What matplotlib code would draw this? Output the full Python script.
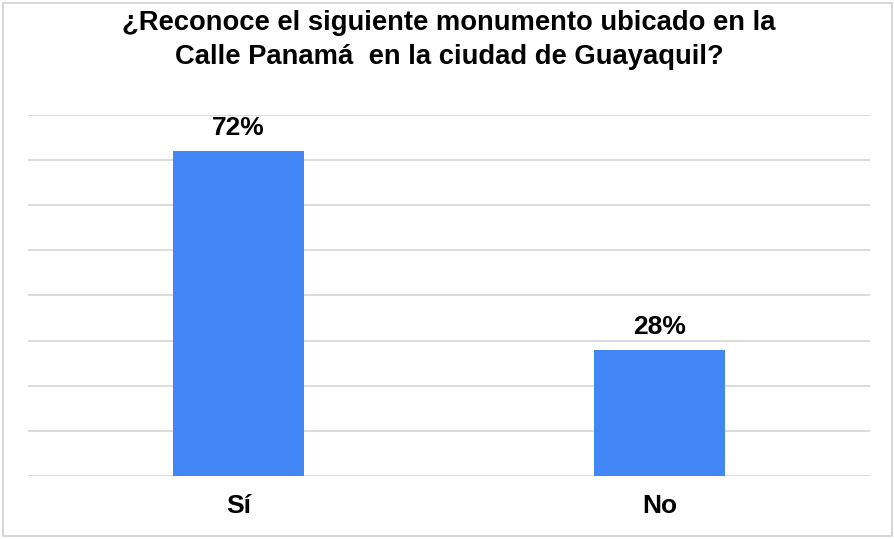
import matplotlib
matplotlib.use("Agg")
import matplotlib.pyplot as plt
from matplotlib.patches import Rectangle

categories = ["Sí", "No"]
values = [72, 28]
labels = ["72%", "28%"]
title = "¿Reconoce el siguiente monumento ubicado en la\nCalle Panamá  en la ciudad de Guayaquil?"

W, H = 895, 539
fig = plt.figure(figsize=(W / 100, H / 100), dpi=100)
plt.rcParams['font.family'] = ['Liberation Sans', 'DejaVu Sans']

left, right, top, bottom = 28, 870, 115, 476
ax = fig.add_axes([left / W, 1 - bottom / H, (right - left) / W, (bottom - top) / H])

x = list(range(len(categories)))
ax.bar(x, values, width=0.313, color="#4285F4", zorder=3)
ax.set_xlim(-0.5, 1.5)
ax.set_ylim(0, 80)
ax.set_yticks(range(0, 81, 10))
ax.yaxis.grid(True, color="#d9d9d9", linewidth=1.3, zorder=0)
ax.tick_params(axis="y", length=0, labelleft=False)
ax.tick_params(axis="x", length=0, pad=13)
ax.set_xticks(x)
ax.set_xticklabels(categories, fontsize=19, fontweight="bold")
for s in ax.spines.values():
    s.set_visible(False)

for xi, v, lab in zip(x, values, labels):
    ax.annotate(lab, (xi, v), xytext=(0, 8), textcoords="offset points",
                ha="center", va="bottom", fontsize=19, fontweight="bold")

fig.text(449 / W, 1 - 40 / H, title, ha="center", va="center", fontsize=19.7,
         fontweight="bold", linespacing=1.42)

fig.patches.append(Rectangle((3 / W, 3 / H), (W - 6) / W, (H - 6) / H,
                             transform=fig.transFigure, fill=False,
                             edgecolor="#d0d0d0", linewidth=1.2))

fig.savefig("out.png", dpi=100)
